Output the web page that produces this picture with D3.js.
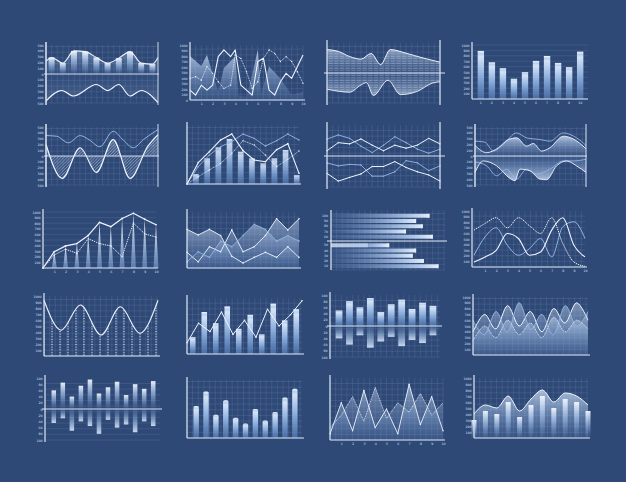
<!DOCTYPE html>
<html><head><meta charset="utf-8">
<script src="https://cdn.jsdelivr.net/npm/d3@7"></script>
<style>html,body{margin:0;padding:0;background:#2f4977;}svg{display:block}</style>
</head><body><svg id="c" width="626" height="482"></svg>
<script>
// ---------------- DATA ----------------
const c1X=[0,0.5,1.5,2.5,3.5,4.5,5.5,6.5,7.5,8.5,9.5,10];
const c1Top=[216,284,188,398,386,284,188,273,386,188,170,284];
const c1BotX=[0,1.4,2.45,4.5,5.5,6.5,7.5,8.5,10];
const c1Bot=[-466,-284,-380,-182,-284,-182,-380,-284,-494];
const ticks500=[500,400,300,200,100,0,-100,-200,-300,-400,-500];

const c2AreaX=[0,1,1.5,2.5,3,4,4.3,5,5.5,6,6.3,7,8,9,10];
const c2Area=[800,620,820,150,580,790,80,60,460,910,120,610,390,90,150];
const c2L1X=[0,0.5,1,1.5,2,2.5,3,3.6,4,4.5,5.5,6,6.5,7,7.5,8,8.5,9,10];
const c2L1=[180,90,270,180,270,790,910,790,910,270,90,700,760,180,90,333,485,394,818];
const c2L2X=[0,0.5,1,1.5,2,2.5,3,3.6,4,4.5,5,5.5,6,6.5,7,7.5,8,8.5,9,9.5,10];
const c2L2=[394,424,360,606,485,333,212,270,818,757,515,212,333,757,910,848,700,788,700,515,303];
const ticks1000=[1000,900,800,700,600,500,400,300,200,100];
const xCats=['1','2','3','4','5','6','7','8','9','10'];

const c3TopX=[0,1,2,3,3.9,4.75,5.6,7,8.5,10];
const c3Top=[78,72,55,46,65,28,78,66,50,36];
const c3BotX=[0,2,3,3.5,4.1,5.4,6.5,8,9.3,10];
const c3Bot=[-54,-64,-40,-32,-75,-24,-72,-61,-34,-29];

const c4Vals=[890,680,570,375,497,705,797,668,589,877];

const c5TopX=[0,0.95,2,3.05,3.9,4.8,6,6.9,7.8,8.7,10];
const c5Top=[352,341,227,352,273,159,426,273,142,284,455];
const c5WaveX=[0,1.45,3.05,4.5,6,7.5,9.1,10];
const c5Wave=[199,-386,142,-284,284,-386,170,369];

const c6BarX=[0.8,1.8,2.8,3.8,4.8,5.8,6.8,7.8,8.8,9.8];
const c6Bars=[169,435,621,763,548,435,350,435,576,153];
const c6A=[0,362,548,746,847,565,407,378,582,684,181];
const c6B=[0,294,492,633,719,847,774,644,734,847,746];
const c6C=[0,124,237,350,520,734,661,492,294,418,559];

const c7U1=[54,68,57,32,11,35,62,43,22,9,22];
const c7U2=[17,43,39,55,35,17,35,25,35,57,39];
const c7L1=[-22,-32,-27,-29,-65,-65,-51,-15,-22,-47,-32];
const c7L2=[-56,-81,-69,-58,-34,-34,-18,-37,-51,-61,-81];

const c8AX=[0,1.05,2.1,3,3.75,4.65,5.25,6,6.75,7.95,8.85,10];
const c8A=[182,57,142,284,313,170,216,85,142,341,295,125];
const c8LX=[0,0.9,1.65,2.55,3.75,4.65,5.85,6.75,7.95,9.15,10];
const c8L=[256,239,85,199,398,313,284,256,398,313,182];
const c8BX=[0,0.75,1.95,3.15,3.6,4.05,4.95,5.85,6.45,7.35,8.25,9.15,10];
const c8B=[-284,-85,-170,-386,-426,-227,-256,-398,-409,-170,-85,-170,-284];
const c8MX=[0,1.05,1.95,2.85,3.75,4.65,5.55,6.75,7.95,8.85,10];
const c8M=[-102,-170,-341,-227,-398,-227,-313,-227,-85,-85,-57];

const c9Solid=[0,291,395,436,581,814,738,884,977,872,773];
const c9Dash=[0,233,337,262,523,436,395,203,802,610,552];

const c10S1=[69,59,69,58,21,9,19,28,19,38,19];
const c10S2=[28,11,38,29,68,29,38,58,88,68,88];
const c10S3=[11,29,19,48,38,58,78,69,48,58,48];

const c11Vals=[88,76,82,67,91,52,76,73,83,96];
const c11Seg=[0,0,0,0,0,33,0,0,0,0];
const c11Labels=['100','90','80','70','60','50','40','30','20','10'];

const c12Dash=[659,778,880,700,880,736,599,880,419,90,12];
const c12White=[90,180,299,599,509,210,269,659,880,389,180];
const c12Blue=[210,539,701,389,210,329,509,180,719,808,509];

const c13X=[0,1.5,3.2,5,6.7,8.4,10];
const c13Wave=[93,43,85,35,82,38,93];
const c14Bars=[30,75,55,85,45,70,35,90,60,80];
const c14Line=[20,55,40,75,35,60,30,80,50,70,95];
const c15Up=[50,80,60,90,45,70,85,55,75,65];
const c15Down=[40,60,30,70,50,35,65,45,55,30];
const c16A=[40,70,45,85,50,75,40,80,55,90,60];
const c16B=[60,35,75,40,90,45,70,35,85,50,75];
const c16C=[25,50,30,60,35,55,30,65,40,60,45];
const c17Up=[60,85,40,75,95,50,70,88,45,80,65,90];
const c17Down=[45,30,70,40,55,80,35,60,50,75,40,55];
const c18Bars=[55,80,40,65,35,25,50,30,45,70,85];
const c19A=[10,60,15,80,20,50,10,90,25,70,15];
const c19B=[20,40,70,30,85,35,60,45,75,40,60];
const c20Area=[40,55,50,70,45,65,80,60,75,70,55];
const c20Bars=[30,45,40,60,35,55,70,50,65,60,45];

// ---------------- HELPERS ----------------
const svg=d3.select('#c');
const GRID='rgba(200,220,250,0.17)', AXIS='#dce7f6', LINE='#eef4fc', LBLUE='#94b6e6', TXT='#d2e0f3';
svg.append('rect').attr('width',626).attr('height',482).attr('fill','#2f4977');
const defs=svg.append('defs');
function lg(id,stops,x2=0,y2=1){const g=defs.append('linearGradient').attr('id',id).attr('x1',0).attr('y1',0).attr('x2',x2).attr('y2',y2);
  stops.forEach(s=>g.append('stop').attr('offset',s[0]).attr('stop-color',s[1]).attr('stop-opacity',s[2]));}
lg('gArea',[[0,'#d8e8fb',0.9],[1,'#7ba3da',0.12]]);
lg('gAreaDown',[[0,'#7ba3da',0.12],[1,'#d8e8fb',0.9]]);
lg('gCol',[[0,'#f2f7fe',0.95],[0.5,'#a7c5ee',0.6],[1,'#7aa0d6',0.05]]);
lg('gBar',[[0,'#eef5fd',1],[0.06,'#b7cff0',1],[0.12,'#d3e3f7',1],[0.5,'#93b5e3',0.95],[1,'#4f78b3',0.75]]);
lg('gSpike',[[0,'#ffffff',0.95],[1,'#7ea6dc',0.55]]);
lg('gHBar',[[0,'#6e94cc',0.15],[0.8,'#b9d1f1',0.9],[1,'#e3eefc',1]],1,0);
lg('gHBar2',[[0,'#eef5fd',0.9],[1,'#c5daf5',0.9]],1,0);
const pd=defs.append('pattern').attr('id','pDash').attr('patternUnits','userSpaceOnUse').attr('width',5.65).attr('height',2.4);
pd.append('rect').attr('x',0.7).attr('y',0.5).attr('width',4.2).attr('height',1.1).attr('fill','#ffffff').attr('opacity',0.28);
const ph=defs.append('pattern').attr('id','pHatch').attr('patternUnits','userSpaceOnUse').attr('width',2.2).attr('height',2.2).attr('patternTransform','rotate(45)');
ph.append('line').attr('x1',0).attr('y1',0).attr('x2',0).attr('y2',2.2).attr('stroke','#e6effb').attr('stroke-width',0.7).attr('opacity',0.8);
const pdot=defs.append('pattern').attr('id','pDots').attr('patternUnits','userSpaceOnUse').attr('width',8).attr('height',2.6);
pdot.append('circle').attr('cx',4).attr('cy',1.3).attr('r',0.75).attr('fill','#e6effb').attr('opacity',0.8);

const zip=(xs,ys)=>xs.map((v,i)=>[v,ys[i]]);
const seq=arr=>arr.map((v,i)=>[i,v]);
function panel(L,R,T,B,o={}){
  const g=svg.append('g'); const st=o.step||5.65;
  if(o.vgrid!==false) g.selectAll(null).data(d3.range(L,R+0.01,st)).join('line').attr('x1',d=>d).attr('x2',d=>d).attr('y1',T).attr('y2',B).attr('stroke',GRID).attr('stroke-width',0.6);
  if(o.hgrid!==false) g.selectAll(null).data(d3.range(B,T-0.01,-(o.hstep||st))).join('line').attr('y1',d=>d).attr('y2',d=>d).attr('x1',L).attr('x2',R).attr('stroke',GRID).attr('stroke-width',0.6);
  return g;
}
function line(g,pts,x,y,curve,stroke,sw,dash){return g.append('path').datum(pts).attr('d',d3.line().x(d=>x(d[0])).y(d=>y(d[1])).curve(curve||d3.curveLinear)).attr('fill','none').attr('stroke',stroke).attr('stroke-width',sw).attr('stroke-dasharray',dash||null).attr('stroke-linejoin','round');}
function area(g,pts,x,y,base,curve,fill,op){return g.append('path').datum(pts).attr('d',d3.area().x(d=>x(d[0])).y0(y(base)).y1(d=>y(d[1])).curve(curve||d3.curveLinear)).attr('fill',fill).attr('opacity',op==null?1:op);}
function dots(g,pts,x,y,r,fill){g.selectAll(null).data(pts).join('circle').attr('cx',d=>x(d[0])).attr('cy',d=>y(d[1])).attr('r',r).attr('fill',fill);}
function hl(g,x1,x2,yy,c,w){g.append('line').attr('x1',x1).attr('x2',x2).attr('y1',yy).attr('y2',yy).attr('stroke',c).attr('stroke-width',w);}
function vl(g,xx,y1,y2,c,w){g.append('line').attr('x1',xx).attr('x2',xx).attr('y1',y1).attr('y2',y2).attr('stroke',c).attr('stroke-width',w);}
function styleAx(a){a.select('.domain').remove();a.selectAll('line').remove();a.selectAll('text').attr('fill',TXT).attr('font-size',3.2).attr('font-family','DejaVu Sans');}
function yText(g,y,vals,xPos,fmt){const a=g.append('g').attr('transform',`translate(${xPos},0)`).call(d3.axisLeft(y).tickValues(vals).tickSize(0).tickPadding(0).tickFormat(fmt||(d=>Math.abs(d))));styleAx(a);}
function xText(g,x,vals,yPos,fmt){const a=g.append('g').attr('transform',`translate(0,${yPos})`).call(d3.axisBottom(x).tickValues(vals).tickSize(0).tickPadding(0).tickFormat(fmt||(d=>d)));styleAx(a);}
const MX=d3.curveMonotoneX;

// ---------------- P1 ----------------
{const L=46,R=158,T=45,B=103,g=panel(L,R,T,B);
 const x=d3.scaleLinear([0,10],[L,R]),y=d3.scaleLinear([-500,500],[B,T]);
 const top=zip(c1X,c1Top),bot=zip(c1BotX,c1Bot);
 area(g,top,x,y,0,MX,'url(#gArea)',0.35);
 g.selectAll(null).data(top.slice(1,11)).join('rect').attr('x',d=>x(d[0])-3).attr('width',6).attr('y',d=>y(d[1])).attr('height',d=>y(0)-y(d[1])).attr('fill','url(#gCol)');
 area(g,bot,x,y,0,MX,'url(#gAreaDown)',0.2);
 line(g,top,x,y,MX,LINE,1.1);line(g,bot,x,y,MX,LINE,1.1);
 hl(g,L-2,R+1,y(0),AXIS,0.9);vl(g,L,T-3,B+2,AXIS,1.5);vl(g,R,T-3,B+2,AXIS,0.9);
 yText(g,y,ticks500,L-2.5);}

// ---------------- P2 ----------------
{const L=190,R=303,T=45,B=100,g=panel(L,R,T,B);
 const x=d3.scaleLinear([0,10],[L,R]),y=d3.scaleLinear([0,1000],[B,T]);
 area(g,zip(c2AreaX,c2Area),x,y,0,d3.curveLinear,'url(#gArea)',0.85);
 const l1=zip(c2L1X,c2L1),l2=zip(c2L2X,c2L2);
 line(g,l2,x,y,d3.curveLinear,LINE,0.8,'1,0.8');dots(g,l2,x,y,0.7,LINE);
 line(g,l1,x,y,d3.curveLinear,LINE,1.1);
 vl(g,L,T-3,B,AXIS,1.2);hl(g,L,R+2,B,AXIS,1.2);
 yText(g,y,ticks1000,L-2.5);xText(g,x,d3.range(1,11),B+2.5);
 yText(g,y,[0],L-2,d=>'0');}

// ---------------- P3 ----------------
{const L=327,R=440,T=43,B=103,g=panel(L,R,T,B);
 const x=d3.scaleLinear([0,10],[L,R]),y=d3.scaleLinear([-100,100],[B,T]);
 const top=zip(c3TopX,c3Top),bot=zip(c3BotX,c3Bot);
 area(g,top,x,y,0,MX,'url(#gArea)',0.55);area(g,top,x,y,0,MX,'url(#pDash)',1);
 area(g,bot,x,y,0,MX,'url(#gAreaDown)',0.55);area(g,bot,x,y,0,MX,'url(#pDash)',1);
 line(g,top,x,y,MX,LINE,1);line(g,bot,x,y,MX,LINE,0.9);
 hl(g,L-3,R+5,y(0),AXIS,1);vl(g,L,T-3,B+2,AXIS,1.2);vl(g,R,T-3,B+2,AXIS,1.2);}

// ---------------- P4 ----------------
{const L=472,R=588,T=45,B=99,g=panel(L,R,T,B,{vgrid:false,hstep:5.4});
 const x=d3.scaleBand(xCats,[L+1,R]).padding(0.42),y=d3.scaleLinear([0,1000],[B,T]);
 g.selectAll(null).data(c4Vals).join('rect').attr('x',(d,i)=>x(xCats[i])).attr('width',x.bandwidth()).attr('y',d=>y(d)).attr('height',d=>B-y(d)).attr('fill','url(#gBar)');
 vl(g,L,T-3,B,AXIS,1.2);hl(g,L,R,B,AXIS,1.2);
 yText(g,y,ticks1000,L-2.5);
 const a=g.append('g').attr('transform',`translate(0,${B+2.5})`).call(d3.axisBottom(x).tickSize(0).tickPadding(0));styleAx(a);}

// ---------------- P5 ----------------
{const L=46,R=158,T=127,B=185,g=panel(L,R,T,B);
 const x=d3.scaleLinear([0,10],[L,R]),y=d3.scaleLinear([-500,500],[B,T]);
 const top=zip(c5TopX,c5Top),wave=zip(c5WaveX,c5Wave);
 area(g,wave,x,y,0,MX,'url(#gArea)',0.25);area(g,wave,x,y,0,MX,'url(#pHatch)',1);
 line(g,top,x,y,MX,LBLUE,1);line(g,wave,x,y,MX,LINE,1.2);
 hl(g,L-2,R+1,y(0),AXIS,0.9);vl(g,L,T-3,B+2,AXIS,1.5);vl(g,R,T-3,B+2,AXIS,0.9);
 yText(g,y,ticks500,L-2.5);}

// ---------------- P6 ----------------
{const L=187,R=299,T=125,B=184,g=panel(L,R,T,B);
 const x=d3.scaleLinear([0,10],[L,R]),y=d3.scaleLinear([0,1000],[B,T]);
 g.selectAll(null).data(zip(c6BarX,c6Bars)).join('rect').attr('x',d=>x(d[0])-2.8).attr('width',5.6).attr('y',d=>y(d[1])).attr('height',d=>B-y(d[1])).attr('fill','url(#gBar)').attr('opacity',0.9);
 line(g,seq(c6C),x,y,d3.curveLinear,LINE,0.8,'1,0.8');dots(g,seq(c6C),x,y,0.7,LINE);
 line(g,seq(c6B),x,y,d3.curveLinear,LBLUE,0.9);dots(g,seq(c6B),x,y,0.7,LBLUE);
 line(g,seq(c6A),x,y,d3.curveLinear,LINE,1.1);dots(g,seq(c6A),x,y,0.8,LINE);
 vl(g,L,T-3,B,AXIS,1.2);hl(g,L,R+2,B,AXIS,1.2);}

// ---------------- P7 ----------------
{const L=327,R=440,T=125,B=187,g=panel(L,R,T,B);
 const x=d3.scaleLinear([0,10],[L,R]),y=d3.scaleLinear([-100,100],[B,T]);
 [[c7U1,LBLUE,0.9],[c7L1,LBLUE,0.9],[c7U2,LINE,1],[c7L2,LINE,1]].forEach(s=>{line(g,seq(s[0]),x,y,d3.curveLinear,s[1],s[2]);dots(g,seq(s[0]),x,y,0.7,s[1]);});
 hl(g,L-3,R+5,y(0),AXIS,1);vl(g,L,T-3,B+2,AXIS,1.2);vl(g,R,T-3,B+2,AXIS,1.2);}

// ---------------- P8 ----------------
{const L=475,R=586,T=127,B=185,g=panel(L,R,T,B);
 const x=d3.scaleLinear([0,10],[L,R]),y=d3.scaleLinear([-500,500],[B,T]);
 const a=zip(c8AX,c8A),l=zip(c8LX,c8L),b=zip(c8BX,c8B),m=zip(c8MX,c8M);
 area(g,a,x,y,0,MX,'url(#gArea)',0.85);line(g,l,x,y,MX,LBLUE,0.9);line(g,a,x,y,MX,LINE,0.9);
 area(g,b,x,y,0,MX,'url(#gAreaDown)',0.85);line(g,m,x,y,MX,LBLUE,0.9);line(g,b,x,y,MX,LINE,0.9);
 hl(g,L-2,R+1,y(0),AXIS,1);vl(g,L,T-3,B+2,AXIS,1.4);vl(g,R,T-3,B+2,AXIS,1);
 yText(g,y,ticks500,L-2.5);}

// ---------------- P9 ----------------
{const L=43,R=156,T=212,B=268,g=panel(L,R,T,B,{vgrid:false,hstep:5.6});
 const x=d3.scaleLinear([0,10],[L,R]),y=d3.scaleLinear([0,1000],[B,T]);
 c9Solid.slice(1).forEach((v,k)=>{const i=k+1;g.append('path').datum([[i-0.22,0],[i,v],[i+0.22,0]]).attr('d',d3.line().x(d=>x(d[0])).y(d=>y(d[1]))).attr('fill','url(#gSpike)');});
 line(g,seq(c9Dash),x,y,d3.curveLinear,LINE,0.9,'1.4,0.9');dots(g,seq(c9Dash),x,y,0.7,LINE);
 line(g,seq(c9Solid),x,y,d3.curveLinear,LINE,1.2);dots(g,seq(c9Solid),x,y,0.9,LINE);
 vl(g,L,T-3,B,AXIS,1.2);hl(g,L,R+2,B,AXIS,1.2);
 yText(g,y,ticks1000,L-2.5);xText(g,x,d3.range(1,11),B+2.5);}

// ---------------- P10 ----------------
{const L=187,R=299,T=212,B=268,g=panel(L,R,T,B);
 const x=d3.scaleLinear([0,10],[L,R]),y=d3.scaleLinear([0,100],[B,T]);
 [c10S1,c10S2,c10S3].forEach(s=>area(g,seq(s),x,y,0,d3.curveLinear,'url(#gArea)',0.5));
 [[c10S1,LINE],[c10S2,LINE],[c10S3,LBLUE]].forEach(s=>{line(g,seq(s[0]),x,y,d3.curveLinear,s[1],0.9);dots(g,seq(s[0]),x,y,0.8,s[1]);});
 vl(g,L,T-3,B,AXIS,1.2);hl(g,L,R+2,B,AXIS,1.2);}

// ---------------- P11 ----------------
{const L=331,R=445,T=210,B=270,g=panel(L,R,T,B);
 const x=d3.scaleLinear([0,100],[L,443]);
 const yA=d3.scaleBand(d3.range(5),[212.5,240]).padding(0.25),yB=d3.scaleBand(d3.range(5,10),[242,269.5]).padding(0.25);
 const yy=i=>i<5?yA(i):yB(i), bh=yA.bandwidth();
 g.selectAll(null).data(c11Vals).join('rect').attr('x',L).attr('y',(d,i)=>yy(i)).attr('height',bh).attr('width',d=>x(d)-L).attr('fill','url(#gHBar)');
 g.selectAll(null).data(c11Vals).join('rect').attr('x',d=>x(d)-2).attr('y',(d,i)=>yy(i)).attr('height',bh).attr('width',2).attr('fill','#e6effb').attr('opacity',0.6);
 g.selectAll(null).data(c11Seg.map((v,i)=>[i,v]).filter(d=>d[1]>0)).join('rect').attr('x',L).attr('y',d=>yy(d[0])).attr('height',bh).attr('width',d=>x(d[1])-L).attr('fill','url(#gHBar2)').attr('opacity',0.8);
 g.selectAll(null).data(c11Labels).join('text').attr('x',L-3).attr('y',(d,i)=>yy(i)+bh/2).attr('dy','0.35em').attr('text-anchor','end').attr('fill',TXT).attr('font-size',3.2).attr('font-family','DejaVu Sans').text(d=>d);
 vl(g,L,T,B,AXIS,1.2);hl(g,L-4,R+2,241,AXIS,1.1);}

// ---------------- P12 ----------------
{const L=474,R=585,T=211,B=267,g=panel(L,R,T,B);
 const x=d3.scaleLinear([0,10],[L,R]),y=d3.scaleLinear([0,1000],[B,T]);
 line(g,seq(c12Blue),x,y,MX,LBLUE,1);
 line(g,seq(c12Dash),x,y,MX,LINE,1,'1.3,0.9');
 line(g,seq(c12White),x,y,MX,LINE,1.1);
 vl(g,L-2,T-3,B,AXIS,1.2);hl(g,L-2,R+2,B,AXIS,1.2);
 yText(g,y,ticks1000,L-4.5);xText(g,x,d3.range(1,11),B+2.5);}

// ---------------- P13 ----------------
{const L=44,R=158,T=296,B=356,g=panel(L,R,T,B);
 const x=d3.scaleLinear([0,10],[L,R]),y=d3.scaleLinear([0,100],[B,T]);
 const w=zip(c13X,c13Wave);
 area(g,w,x,y,0,MX,'url(#pDots)',1);
 line(g,w,x,y,MX,LINE,1.1);
 vl(g,L,T-3,B,AXIS,1.2);hl(g,L,R+2,B,AXIS,1.2);
 yText(g,y,[100,90,80,70,60,50,40,30,20,10],L-2.5,d=>d*10);}

// ---------------- P14 ----------------
{const L=187,R=302,T=298,B=354,g=panel(L,R,T,B);
 const x=d3.scaleLinear([0,10],[L,R]),y=d3.scaleLinear([0,100],[B,T]);
 g.selectAll(null).data(c14Bars).join('rect').attr('x',(d,i)=>x(i+0.5)-2.8).attr('width',5.6).attr('y',d=>y(d)).attr('height',d=>B-y(d)).attr('fill','url(#gBar)');
 line(g,seq(c14Line),x,y,d3.curveLinear,LINE,1);dots(g,seq(c14Line),x,y,0.8,LINE);
 vl(g,L,T-3,B,AXIS,1.2);hl(g,L,R+2,B,AXIS,1.2);}

// ---------------- P15 ----------------
{const L=330,R=440,T=295,B=357,g=panel(L,R,T,B);
 const x=d3.scaleBand(xCats,[L+2,R]).padding(0.35),y=d3.scaleLinear([-100,100],[B,T]);
 g.selectAll(null).data(c15Up).join('rect').attr('x',(d,i)=>x(xCats[i])).attr('width',x.bandwidth()).attr('y',d=>y(d)).attr('height',d=>y(0)-y(d)).attr('fill','url(#gBar)');
 g.selectAll(null).data(c15Down).join('rect').attr('x',(d,i)=>x(xCats[i])).attr('width',x.bandwidth()).attr('y',y(0)).attr('height',d=>y(-d)-y(0)).attr('fill','url(#gAreaDown)');
 hl(g,L-3,R+2,y(0),AXIS,1.1);vl(g,L,T-3,B+2,AXIS,1.2);
 yText(g,y,[100,80,60,40,20,0,-20,-40,-60,-80,-100],L-2.5);}

// ---------------- P16 ----------------
{const L=473,R=588,T=297,B=355,g=panel(L,R,T,B);
 const x=d3.scaleLinear([0,10],[L,R]),y=d3.scaleLinear([0,100],[B,T]);
 [c16A,c16B,c16C].forEach(s=>area(g,seq(s),x,y,0,d3.curveCardinal,'url(#gArea)',0.5));
 line(g,seq(c16A),x,y,d3.curveCardinal,LINE,1);line(g,seq(c16B),x,y,d3.curveCardinal,LBLUE,0.9);line(g,seq(c16C),x,y,d3.curveCardinal,LINE,0.8,'1,0.8');
 vl(g,L,T-3,B,AXIS,1.2);hl(g,L,R+2,B,AXIS,1.2);
 yText(g,y,[100,90,80,70,60,50,40,30,20,10],L-2.5,d=>d*10);}

// ---------------- P17 ----------------
{const L=45,R=160,T=378,B=440,g=panel(L,R,T,B,{vgrid:false});
 const cats=d3.range(12),x=d3.scaleBand(cats,[L+2,R]).padding(0.5),y=d3.scaleLinear([-100,100],[B,T]);
 g.selectAll(null).data(c17Up).join('rect').attr('x',(d,i)=>x(i)).attr('width',x.bandwidth()).attr('y',d=>y(d)).attr('height',d=>y(0)-y(d)).attr('fill','url(#gCol)');
 g.selectAll(null).data(c17Down).join('rect').attr('x',(d,i)=>x(i)).attr('width',x.bandwidth()).attr('y',y(0)).attr('height',d=>y(-d)-y(0)).attr('fill','url(#gAreaDown)');
 hl(g,L-3,R+2,y(0),AXIS,1.1);vl(g,L,T-3,B+2,AXIS,1.2);
 yText(g,y,[100,80,60,40,20,0,-20,-40,-60,-80,-100],L-2.5);}

// ---------------- P18 ----------------
{const L=187,R=302,T=380,B=438,g=panel(L,R,T,B);
 const cats=d3.range(11),x=d3.scaleBand(cats,[L+2,R]).padding(0.45),y=d3.scaleLinear([0,100],[B,T]);
 g.selectAll(null).data(c18Bars).join('rect').attr('x',(d,i)=>x(i)).attr('width',x.bandwidth()).attr('y',d=>y(d)).attr('height',d=>B-y(d)).attr('rx',1.5).attr('fill','url(#gBar)');
 vl(g,L,T-3,B,AXIS,1.2);hl(g,L,R+2,B,AXIS,1.2);}

// ---------------- P19 ----------------
{const L=330,R=443,T=378,B=440,g=panel(L,R,T,B);
 const x=d3.scaleLinear([0,10],[L,R]),y=d3.scaleLinear([0,100],[B,T]);
 area(g,seq(c19A),x,y,0,d3.curveLinear,'url(#gArea)',0.6);area(g,seq(c19B),x,y,0,d3.curveLinear,'url(#gArea)',0.45);
 line(g,seq(c19A),x,y,d3.curveLinear,LINE,0.9);line(g,seq(c19B),x,y,d3.curveLinear,LINE,0.8,'1,0.8');
 dots(g,seq(c19A),x,y,0.7,LINE);
 vl(g,L,T-3,B,AXIS,1.2);hl(g,L,R+2,B,AXIS,1.2);
 xText(g,x,d3.range(1,11),B+2.5);}

// ---------------- P20 ----------------
{const L=474,R=588,T=378,B=438,g=panel(L,R,T,B);
 const x=d3.scaleLinear([0,10],[L,R]),y=d3.scaleLinear([0,100],[B,T]);
 area(g,seq(c20Area),x,y,0,MX,'url(#gArea)',0.8);
 g.selectAll(null).data(c20Bars).join('rect').attr('x',(d,i)=>x(i)-2.5).attr('width',5).attr('y',d=>y(d)).attr('height',d=>B-y(d)).attr('fill','url(#gCol)');
 line(g,seq(c20Area),x,y,MX,LINE,1);
 vl(g,L,T-3,B,AXIS,1.2);hl(g,L,R+2,B,AXIS,1.2);
 yText(g,y,[100,90,80,70,60,50,40,30,20,10],L-2.5,d=>d*10);}
</script></body></html>
